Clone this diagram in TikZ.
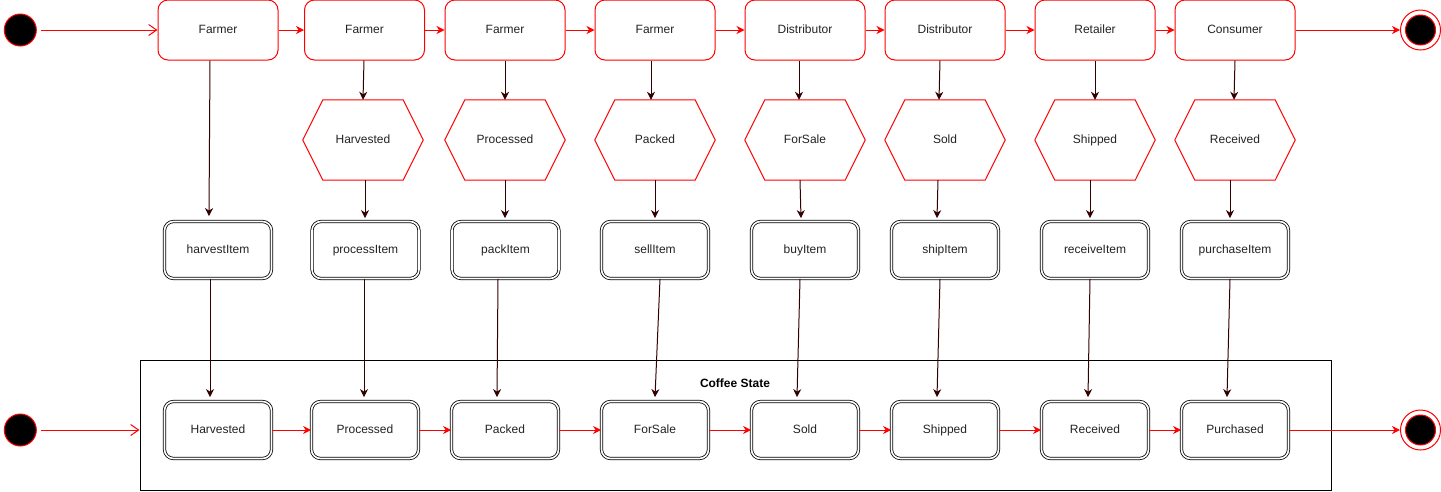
\documentclass[tikz,border=0pt]{standalone}
\usepackage{fontspec}
\setmainfont{Liberation Sans}
\usetikzlibrary{arrows.meta}
\definecolor{connc}{HTML}{330000}
\definecolor{txt}{HTML}{222222}
\begin{document}
\begin{tikzpicture}[x=1pt,y=-1pt,
  font=\fontsize{12}{14}\selectfont, text=txt,
  lbl/.style={text height=8.6pt, text depth=2.4pt},
  actor/.style={lbl, draw=red, line width=1pt, rounded corners=10pt, minimum width=120pt, minimum height=60pt, inner sep=0pt},
  item/.style={lbl, draw=black, double, double distance=1.6pt, line width=0.8pt, rounded corners=9pt, minimum width=107pt, minimum height=57pt, inner sep=0pt},
  hexbox/.style={lbl, minimum width=120pt, minimum height=80pt, inner sep=0pt},
  hexline/.style={draw=red, line width=1pt},
  flow/.style={draw=red, line width=1pt, -{Stealth[length=8pt,width=8pt,inset=2.5pt]}},
  openflow/.style={draw=red, line width=1pt, shorten <=4pt, -{Straight Barb[length=8pt,width=11pt]}},
  conn/.style={draw=connc, line width=1pt, -{Stealth[length=8pt,width=8pt,inset=2.5pt]}},
  startdot/.style={circle, fill=black, draw=red, line width=1pt, minimum size=32pt, inner sep=0pt},
  enddot/.style={circle, draw=red, line width=1pt, fill=white, minimum size=40pt, inner sep=0pt},
  endin/.style={circle, fill=black, draw=red, line width=1pt, minimum size=30pt, inner sep=0pt},
  frame/.style={draw=black, line width=1pt, minimum width=1191pt, minimum height=130pt, inner sep=0pt}
]
\useasboundingbox (0,0) rectangle (1441,491);

% container
\node[frame] (cont) at (735.5,425) {};
\node[lbl, font=\fontsize{12}{14}\selectfont\bfseries, text=black] (ctitle) at (735,384) {Coffee State};

% start / end
\node[startdot] (s1) at (20.3,30) {};
\node[enddot] (e1) at (1420.5,30) {};
\node[endin] (e1i) at (1420.5,30) {};
\node[startdot] (s2) at (20.3,430) {};
\node[enddot] (e2) at (1420.5,430) {};
\node[endin] (e2i) at (1420.5,430) {};

% top row
\node[actor] (f1) at (218,30) {Farmer};
\node[actor] (f2) at (364.5,30) {Farmer};
\node[actor] (f3) at (505,30) {Farmer};
\node[actor] (f4) at (655,30) {Farmer};
\node[actor] (d1) at (805,30) {Distributor};
\node[actor] (d2) at (945,30) {Distributor};
\node[actor] (r1) at (1095,30) {Retailer};
\node[actor] (c1) at (1235,30) {Consumer};

% hexagons
\foreach \n/\x/\t in {h2/363/Harvested, h3/505/Processed, h4/655/Packed, h5/805/ForSale, h6/945/Sold, h7/1095/Shipped, h8/1235/Received}{
  \node[hexbox] (\n) at (\x,140) {\t};
  \draw[hexline] (\n.west) -- ([xshift=20pt]\n.north west) -- ([xshift=-20pt]\n.north east) -- (\n.east) -- ([xshift=-20pt]\n.south east) -- ([xshift=20pt]\n.south west) -- cycle;
}

% middle row
\node[item] (m1) at (218,250) {harvestItem};
\node[item] (m2) at (365.5,250) {processItem};
\node[item] (m3) at (505.5,250) {packItem};
\node[item] (m4) at (655,250) {sellItem};
\node[item] (m5) at (805,250) {buyItem};
\node[item] (m6) at (945,250) {shipItem};
\node[item] (m7) at (1095,250) {receiveItem};
\node[item] (m8) at (1235,250) {purchaseItem};

% bottom row
\node[item] (b1) at (218,430) {Harvested};
\node[item] (b2) at (365,430) {Processed};
\node[item] (b3) at (505,430) {Packed};
\node[item] (b4) at (655,430) {ForSale};
\node[item] (b5) at (805,430) {Sold};
\node[item] (b6) at (945,430) {Shipped};
\node[item] (b7) at (1095,430) {Received};
\node[item] (b8) at (1235,430) {Purchased};

% red flows top
\draw[openflow] (s1) -- (f1);
\draw[flow] (f1) -- (f2);
\draw[flow] (f2) -- (f3);
\draw[flow] (f3) -- (f4);
\draw[flow] (f4) -- (d1);
\draw[flow] (d1) -- (d2);
\draw[flow] (d2) -- (r1);
\draw[flow] (r1) -- (c1);
\draw[flow] (c1) -- (e1);

% red flows bottom
\draw[openflow] (s2) -- (s2 -| cont.west);
\draw[flow] (b1) -- (b2);
\draw[flow] (b2) -- (b3);
\draw[flow] (b3) -- (b4);
\draw[flow] (b4) -- (b5);
\draw[flow] (b5) -- (b6);
\draw[flow] (b6) -- (b7);
\draw[flow] (b7) -- (b8);
\draw[flow] (b8) -- (e2);

% top -> hex
\foreach \a/\da/\b/\db in {f2/-0.5/h2/0, f3/0/h3/0, f4/-4/h4/-4, d1/-6/h5/-6, d2/-5/h6/-6, r1/0/h7/0, c1/0/h8/-1}{
  \draw[conn] ([xshift=\da pt]\a.south) -- ([xshift=\db pt]\b.north);
}
% first farmer directly to item
\draw[conn] ([xshift=-8pt]f1.south) -- ([xshift=-9pt,yshift=5pt]m1.north);

% hex -> middle
\foreach \a/\da/\b/\db in {h2/2/m2/-0.5, h3/0/m3/-0.5, h4/0/m4/0, h5/-5/m5/-4, h6/-7/m6/-8, h7/-5/m7/-5, h8/-5/m8/-5}{
  \draw[conn] ([xshift=\da pt]\a.south) -- ([xshift=\db pt,yshift=3pt]\b.north);
}

% middle -> bottom
\foreach \a/\da/\b/\db in {m1/-8/b1/-8, m2/-1.5/b2/-1, m3/-7.5/b3/-8, m4/5/b4/0, m5/-5/b5/-8, m6/-5/b6/-8, m7/-5/b7/-7, m8/-5/b8/-8}{
  \draw[conn] ([xshift=\da pt]\a.south) -- ([xshift=\db pt,yshift=4pt]\b.north);
}
\end{tikzpicture}
\end{document}
